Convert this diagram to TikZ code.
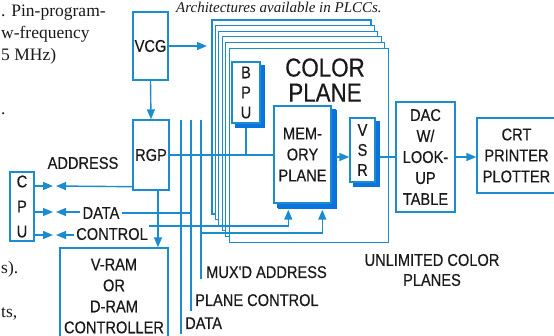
\documentclass[tikz,border=0pt]{standalone}
\usepackage{fontspec}
\setmainfont{Liberation Serif}
\newfontfamily\diagfont[FakeStretch=0.86, FakeBold=0.4]{Liberation Sans}
\usetikzlibrary{arrows.meta, shadows, calc}
\definecolor{LineBlue}{RGB}{28,140,208}
\definecolor{ShadeBlue}{RGB}{10,115,220}
\definecolor{Ink}{RGB}{25,25,25}

\begin{document}
\begin{tikzpicture}[x=1pt, y=-1pt,
    box/.style={draw=LineBlue, line width=1.4pt, fill=white, inner sep=0pt,
                align=center, text=Ink,
                font=\diagfont\fontsize{17}{21}\selectfont},
    shbox/.style={box, copy shadow={shadow xshift=4pt, shadow yshift=-4pt,
                  fill=ShadeBlue, draw=ShadeBlue}},
    plane/.style={draw=LineBlue, line width=1.2pt, fill=white},
    wire/.style={draw=LineBlue, line width=1.4pt},
    arr/.style={wire, -{Triangle[length=10pt,width=8pt]}},
    lbl/.style={text=Ink, font=\diagfont\fontsize{17}{20}\selectfont,
                inner sep=0pt, align=center},
    prose/.style={text=Ink, font=\fontsize{17.5}{20}\selectfont, inner sep=0pt,
                  anchor=base west}
  ]
  \useasboundingbox (0,0) rectangle (554,336);
  \clip (0,0) rectangle (554,336);

  % Article text around the figure
  \node[prose, font=\itshape\fontsize{15}{18}\selectfont]
       at (176,12.5) {Architectures available in PLCCs.};
  \node[prose] at (1,17) {. Pin-program-};
  \node[prose] at (1,39) {w-frequency};
  \node[prose] at (1,61) {5 MHz)};
  \node[prose] at (1,115) {.};
  \node[prose] at (1,274) {s).};
  \node[prose] at (1,318) {ts,};

  % Color planes, back to front
  \foreach \i in {0,...,4}
    \draw[plane] (212+3.4*\i, 20+5.6*\i) rectangle ++(159,194);
  \node[plane, minimum width=159pt, minimum height=194pt, inner sep=0pt,
        anchor=north west] (plane) at (229,48) {};
  \node[lbl, font=\diagfont\fontsize{26}{25}\selectfont] (title)
       at (325,80) {COLOR\\PLANE};

  % Boxes
  \node[box, minimum width=35pt, minimum height=68pt] (vcg) at (150.5,46) {VCG};
  \node[box, minimum width=36pt, minimum height=70pt] (rgp) at (151,155) {RGP};
  \node[box, minimum width=24pt, minimum height=69pt,
        font=\diagfont\fontsize{17}{25}\selectfont] (cpu) at (22,206.5) {C\\P\\U};
  \node[box, minimum width=108pt, minimum height=96pt] (vram)
       at (114,296) {V-RAM\\OR\\D-RAM\\CONTROLLER};
  \node[shbox, minimum width=28pt, minimum height=61pt,
        font=\diagfont\fontsize{17}{20}\selectfont] (bpu) at (246,92.5) {B\\P\\U};
  \node[shbox, minimum width=57pt, minimum height=97pt,
        copy shadow={shadow xshift=5pt, shadow yshift=-5pt, fill=ShadeBlue,
                     draw=ShadeBlue}] (mem) at (302.5,154.5) {MEM-\\ORY\\PLANE};
  \node[shbox, minimum width=25pt, minimum height=64pt,
        font=\diagfont\fontsize{17}{20}\selectfont] (vsr) at (362.5,150) {V\\S\\R};
  \node[box, minimum width=59pt, minimum height=110pt] (dac)
       at (425.5,157) {DAC\\W/\\LOOK-\\UP\\TABLE};
  \node[box, minimum width=79pt, minimum height=75pt] (crt)
       at (516.5,155.5) {CRT\\PRINTER\\PLOTTER};
  \node[lbl] (unl) at (432,270) {UNLIMITED COLOR\\PLANES};

  % Buses down the middle
  \coordinate (dtop) at (181,120);
  \coordinate (dbot) at (181,334);
  \coordinate (ptop) at (191,120);
  \coordinate (pbot) at (191,311);
  \coordinate (mtop) at (201,120);
  \coordinate (mbot) at (201,279);
  \draw[wire] (dtop) -- (dbot);
  \draw[wire] (ptop) -- (pbot);
  \draw[wire] (mtop) -- (mbot);
  \node[lbl, anchor=base west] (dlbl) at ($(dbot)+(4,-5)$) {DATA};
  \node[lbl, anchor=base west] (plbl) at ($(pbot)+(4,-5)$) {PLANE CONTROL};
  \node[lbl, anchor=base west] (mlbl) at ($(mbot)+(5,-1)$) {MUX'D ADDRESS};

  % Video path
  \coordinate (vcgtip) at (207,46);
  \draw[arr] (vcg.east) -- (vcgtip);
  \draw[arr] (vcg.south) -- (rgp.north);
  \draw[wire] (rgp.east) -- (rgp.east -| mem.west);
  \draw[wire] (bpu.south) ++(0,4) -- (bpu.south |- rgp.east);
  \draw[arr] ($(mem.east)+(4,2.5)$) -- (vsr.west |- dac.west);
  \draw[wire] ($(vsr.east)+(4,7)$) -- (dac.west);
  \draw[arr] (dac.east) -- (dac.east -| crt.west);

  % CPU side
  \node[lbl] (alab) at (83,163) {ADDRESS};
  \node[lbl] (dlab) at (101,213) {DATA};
  \node[lbl] (clab) at (112,234) {CONTROL};
  \coordinate (aL) at (53,186);
  \coordinate (aR) at (56,186);
  \coordinate (dL) at (53,212);
  \coordinate (dR) at (56,212);
  \coordinate (cL) at (53,235);
  \coordinate (cR) at (56,235);
  \draw[arr] (cpu.east |- aL) -- (aL);
  \draw[arr] (cpu.east |- dL) -- (dL);
  \draw[arr] (cpu.east |- cL) -- (cL);
  \draw[arr] ($(rgp.south west)+(0,-4)$) -- (aR);
  \draw[arr] ($(dlab.west)+(-2,-1)$) -- (dR);
  \draw[arr] ($(clab.west)+(-2,1)$) -- (cR);
  \draw[wire] ($(dlab.east)+(2,0)$) -- (dlab.east -| ptop);
  \coordinate (rv) at ($(rgp.south)+(7,0)$);
  \draw[arr] (rv) -- (rv |- vram.north);

  % Into the memory plane
  \draw[arr] ($(clab.east)+(1,-8)$) -| ($(mem.south west)+(15,6)$);
  \draw[arr] ($(mtop)+(0,113)$) -| ($(mem.south west)+(49,6)$);
\end{tikzpicture}
\end{document}
